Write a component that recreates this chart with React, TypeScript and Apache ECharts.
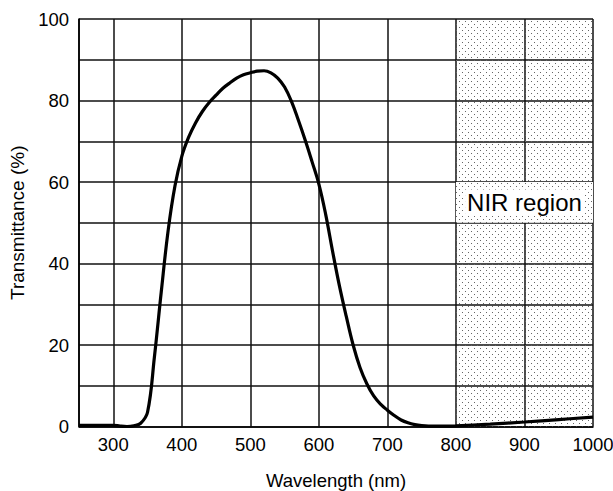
import React, { useEffect, useRef } from "react";
import * as echarts from "echarts";

const wavelength = [250, 260, 270, 280, 290, 300, 310, 320, 330, 340, 350, 360, 370, 380, 390, 400, 410, 420, 430, 440, 450, 460, 470, 480, 490, 500, 510, 520, 530, 540, 550, 560, 570, 580, 590, 600, 610, 620, 630, 640, 650, 660, 670, 680, 690, 700, 710, 720, 730, 740, 750, 760, 770, 780, 790, 800, 850, 900, 950, 1000];
const transmittance = [0.3, 0.3, 0.3, 0.3, 0.3, 0.3, 0.1, 0, 0.2, 0.8, 3.5, 17, 33, 48, 59, 66.3, 71, 74.5, 77.3, 79.5, 81.3, 83, 84.3, 85.5, 86.3, 86.8, 87.2, 87.3, 86.8, 85.5, 83.3, 79.8, 75.2, 70.3, 65, 59.5, 52, 43, 34.5, 27, 20, 14.5, 10.5, 7.5, 5.5, 4, 2.7, 1.6, 0.9, 0.45, 0.2, 0.1, 0.1, 0.1, 0.1, 0.15, 0.6, 1.1, 1.7, 2.3];

const nirStart = 800;
const nirEnd = 1000;
const labelTop = 60;
const labelBottom = 50;
const nirLabel = "NIR region";

const FONT = "'Liberation Sans', Arial, Helvetica, sans-serif";

function makeDots(opaque: boolean) {
  const c = document.createElement("canvas");
  c.width = 6;
  c.height = 6;
  const ctx = c.getContext("2d")!;
  if (opaque) {
    ctx.fillStyle = "#ffffff";
    ctx.fillRect(0, 0, 6, 6);
  }
  ctx.fillStyle = "#666666";
  ctx.fillRect(0, 0, 1, 1);
  ctx.fillRect(3, 3, 1, 1);
  return c;
}

export default function App() {
  const ref = useRef<HTMLDivElement>(null);
  useEffect(() => {
    if (!ref.current) return;
    const chart = echarts.init(ref.current, null, { renderer: "svg" });
    const data = wavelength.map((w, i) => [w, transmittance[i]]);
    chart.setOption({
      animation: false,
      backgroundColor: "#ffffff",
      textStyle: { fontFamily: FONT },
      grid: { left: 79, right: 20, top: 19, bottom: 64.5, outerBoundsMode: "none", containLabel: false },
      xAxis: {
        type: "value",
        min: 250,
        max: 1000,
        splitNumber: 8,
        minInterval: 100,
        maxInterval: 100,
        name: "Wavelength (nm)",
        nameLocation: "middle",
        nameGap: 44.5,
        nameTextStyle: { fontSize: 18.5, color: "#000", fontFamily: FONT },
        axisLine: { show: true, lineStyle: { color: "#000", width: 1.6 } },
        axisTick: { show: false },
        axisLabel: {
          fontSize: 18.5,
          color: "#000",
          fontFamily: FONT,
          margin: 8,
          formatter: (v: number) => (v === 250 ? "" : String(v)),
        },
        splitLine: { show: true, lineStyle: { color: "#111", width: 1.5 } },
      },
      yAxis: {
        type: "value",
        min: 0,
        max: 100,
        interval: 10,
        name: "Transmittance (%)",
        nameLocation: "middle",
        nameGap: 50,
        nameTextStyle: { fontSize: 19, color: "#000", fontFamily: FONT },
        axisLine: { show: true, lineStyle: { color: "#000", width: 1.6 } },
        axisTick: { show: false },
        axisLabel: {
          fontSize: 18.5,
          color: "#000",
          fontFamily: FONT,
          margin: 10,
          formatter: (v: number) => (v % 20 === 0 ? String(v) : ""),
        },
        splitLine: { show: true, lineStyle: { color: "#111", width: 1.5 } },
      },
      series: [
        {
          type: "line",
          data,
          showSymbol: false,
          smooth: 0.4,
          lineStyle: { color: "#000", width: 3.2 },
          z: 5,
          markArea: {
            silent: true,
            data: [
              [
                { xAxis: nirStart, itemStyle: { color: { image: makeDots(false), repeat: "repeat" } } },
                { xAxis: nirEnd },
              ],
              [
                {
                  xAxis: nirStart,
                  yAxis: labelTop,
                  name: nirLabel,
                  itemStyle: { color: { image: makeDots(true), repeat: "repeat" } },
                  label: {
                    show: true,
                    position: "inside",
                    formatter: nirLabel,
                    fontSize: 24,
                    color: "#000",
                    fontFamily: FONT,
                    backgroundColor: "#ffffff",
                    padding: [2, 2, 0, 2],
                  },
                },
                { xAxis: nirEnd, yAxis: labelBottom },
              ],
            ],
          },
        },
      ],
    });
    return () => chart.dispose();
  }, []);
  return (
    <div
      ref={ref}
      style={{ position: "fixed", left: 0, top: 0, width: 613, height: 491 }}
    />
  );
}
